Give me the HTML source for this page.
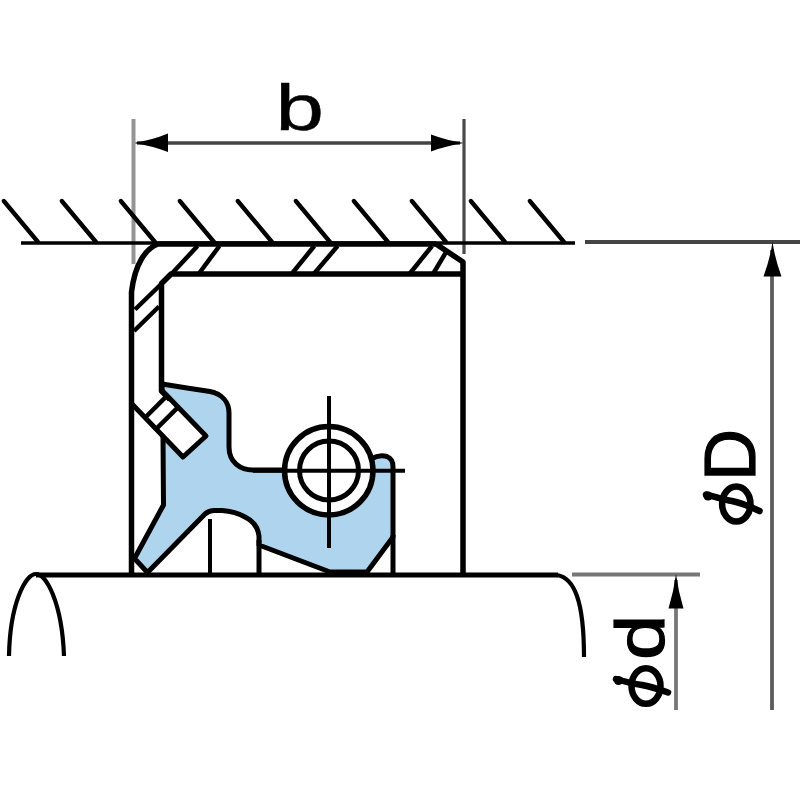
<!DOCTYPE html>
<html><head><meta charset="utf-8">
<style>
html,body{margin:0;padding:0;background:#fff;width:800px;height:800px;overflow:hidden}
svg{display:block}
text{font-family:"Liberation Sans",sans-serif}
</style></head>
<body>
<svg width="800" height="800" viewBox="0 0 800 800">
<rect width="800" height="800" fill="#fff"/>

<!-- ===== dimension b ===== -->
<line x1="137" y1="143" x2="460" y2="143" stroke="#444" stroke-width="3.6"/>
<path d="M133,143 Q151,140.5 168,133.5 L168,152 Q151,145.5 133,143 Z" fill="#000"/>
<path d="M464,143 Q447,140.5 431,134.5 L431,151.5 Q447,145.5 464,143 Z" fill="#000"/>
<line x1="133.5" y1="119" x2="133.5" y2="264" stroke="#959595" stroke-width="4"/>
<line x1="464" y1="119" x2="464" y2="254" stroke="#4a4a4a" stroke-width="3.2"/>

<!-- ===== housing ===== -->
<line x1="21" y1="243" x2="575" y2="243" stroke="#000" stroke-width="3.5"/>
<g stroke="#000" stroke-width="4.3" stroke-linecap="round">
<line x1="3.8" y1="201" x2="38" y2="242"/>
<line x1="61.8" y1="201" x2="96" y2="242"/>
<line x1="120.8" y1="201" x2="155" y2="242"/>
<line x1="179.8" y1="201" x2="214" y2="242"/>
<line x1="237.8" y1="201" x2="272" y2="242"/>
<line x1="295.8" y1="201" x2="330" y2="242"/>
<line x1="353.8" y1="201" x2="388" y2="242"/>
<line x1="411.8" y1="201" x2="446" y2="242"/>
<line x1="470.8" y1="201" x2="505" y2="242"/>
<line x1="529.8" y1="201" x2="564" y2="242"/>
</g>

<!-- ===== dimension lines right ===== -->
<line x1="585" y1="242" x2="800" y2="242" stroke="#444" stroke-width="3.8"/>
<line x1="772" y1="250" x2="772" y2="710" stroke="#5c5c5c" stroke-width="3.8"/>
<path d="M772.5,242 Q770,259 763.5,276.5 L781.5,276.5 Q775,259 772.5,242 Z" fill="#000"/>
<line x1="572" y1="574.5" x2="700" y2="574.5" stroke="#777" stroke-width="3.8"/>
<line x1="676" y1="580" x2="676" y2="710" stroke="#777" stroke-width="3.8"/>
<path d="M676,574 Q673.8,591 668.5,608.5 L683.5,608.5 Q678.2,591 676,574 Z" fill="#000"/>

<!-- ===== shaft ===== -->
<g fill="none" stroke="#000" stroke-width="4.2">
<line x1="36" y1="575" x2="558" y2="575" stroke-width="5"/>
<path d="M557,575 C574,578 584,600 584,657"/>
<path d="M9,656 C10,602 26,574 36,574 C46,574 62,602 64,656"/>
</g>

<!-- ===== blue rubber ===== -->
<path d="M162,384 L187,388 L210,391.5 C222,394 229,402 229,413 L229,447 C229,462 240,470 253,470 L300,470 L371,459 C376,456 382,455 387,456.5 C391,458 393,462 393,467 L393,537 L367,572 L330,572 L259,545 L259,536 C258,528 253,521 246,517.5 C240,514 232,511 222,510.5 L214,510.5 Q209,510.5 205,514 L147.5,572.5 L134.5,558.5 L163.5,505 L163,436 L162,392 Z" fill="#afd5ee" stroke="#000" stroke-width="5" stroke-linejoin="round"/>

<!-- extra vertical lines under lip -->
<g stroke="#000" stroke-width="4">
<line x1="210" y1="519" x2="210" y2="575"/>
<line x1="259" y1="540" x2="259" y2="575" stroke-width="5"/>
<line x1="393" y1="535" x2="393" y2="575" stroke-width="5"/>
</g>

<!-- ===== metal casing ===== -->
<!-- tab -->
<path d="M161.5,390 L206,436 L183,457 L132,404" fill="#fff" stroke="#000" stroke-width="5" stroke-linejoin="round"/>
<g fill="none" stroke="#000" stroke-width="5.5" stroke-linejoin="round">
<!-- outer -->
<path d="M436,244 L158,244 C146,248.5 135,263 131.5,292 L131.5,575"/>
<path d="M436,244 L463,262 L463,575"/>
<!-- inner -->
<path d="M463,274 L171,274 L161.5,283.5 L161.5,391 L170,399.5"/>
</g>
<!-- casing hatches -->
<g stroke="#000" stroke-width="4.5" fill="none">
<polyline points="135,309.5 171,274.5 197.5,246"/>
<line x1="134" y1="331" x2="159" y2="306.5"/>
<line x1="198.6" y1="274" x2="219.4" y2="246"/>
<line x1="291.6" y1="274" x2="314.3" y2="246"/>
<line x1="313.8" y1="274" x2="337.6" y2="246"/>
<line x1="409.5" y1="274" x2="432" y2="246"/>
<line x1="433" y1="274" x2="446.6" y2="251.2"/>
<line x1="144.75" y1="418" x2="166.4" y2="396.4"/>
<line x1="155.8" y1="429.3" x2="177.6" y2="407.6"/>
</g>

<!-- ===== spring ===== -->
<circle cx="328.75" cy="470.75" r="44.2" fill="#fff" stroke="#000" stroke-width="5.5"/>
<circle cx="329" cy="470.5" r="29.5" fill="#fff" stroke="#000" stroke-width="5"/>
<g stroke="#000" stroke-width="4">
<line x1="329" y1="396" x2="329" y2="548"/>
<line x1="253" y1="470.75" x2="405" y2="470.75"/>
</g>

<!-- ===== texts ===== -->
<text transform="translate(275.5,129.5) scale(1.36,1)" font-size="64" fill="#000" stroke="#000" stroke-width="0.5">b</text>
<g transform="translate(664,660) rotate(-90)"><text transform="scale(1.18,1)" font-size="69" fill="#000" stroke="#000" stroke-width="1.2">d</text></g>
<g transform="translate(754.6,481) rotate(-90)"><text font-size="72" fill="#000" stroke="#000" stroke-width="1.2">D</text></g>
<g fill="none" stroke="#000" stroke-width="6.5" stroke-linecap="round">
<ellipse cx="646" cy="686" rx="14.5" ry="17.8"/>
<path d="M616,679 C626,682 634,684 642,685 C652,687 661,690 668,692.5"/>
<ellipse cx="736.3" cy="504" rx="14.2" ry="17.5"/>
<path d="M706,494.5 C716,497 724,500 732,501 C742,503 751,507 759.5,511"/>
</g>
<circle cx="708" cy="496" r="4.6" fill="#000"/>
<circle cx="618.5" cy="680.5" r="4.6" fill="#000"/>
</svg>
</body></html>
